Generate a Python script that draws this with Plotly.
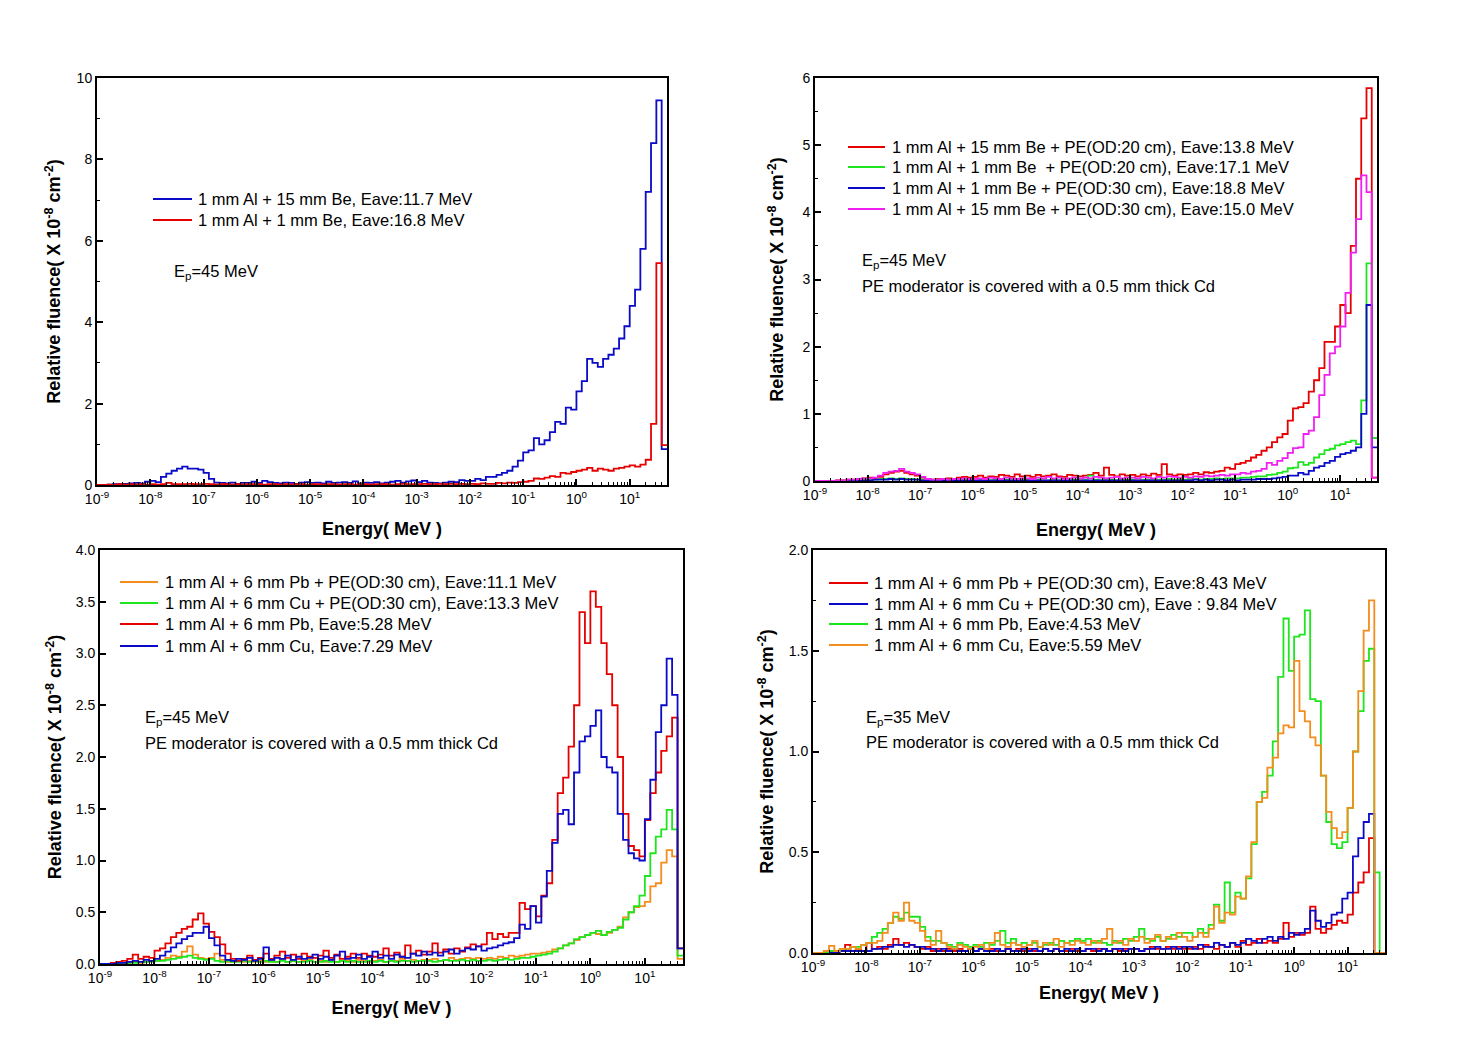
import plotly.graph_objects as go

# ---------------- energy bin grid (10 bins per decade, 1e-9 .. 10^1.7 MeV) ----------------
LOG_E_START = -9.0
BINS_PER_DECADE = 10
N_BINS = 107
energy_edges = [10 ** (LOG_E_START + i / BINS_PER_DECADE) for i in range(N_BINS + 1)]

decade_tick_exponents = list(range(-9, 2))

# ---------------- Panel 1 (Ep = 45 MeV, no PE) ----------------
p1_al15be = [
    0.0, 0.0, 0.01, 0.02, 0.02, 0.03, 0.04, 0.05, 0.04, 0.08,
    0.1, 0.07, 0.2, 0.28, 0.35, 0.4, 0.45, 0.4, 0.4, 0.38,
    0.3, 0.15, 0.06, 0.05, 0.04, 0.06, 0.03, 0.05, 0.05, 0.08,
    0.05, 0.1, 0.07, 0.05, 0.04, 0.06, 0.05, 0.03, 0.06, 0.07,
    0.05, 0.06, 0.04, 0.08, 0.05, 0.06, 0.07, 0.05, 0.09, 0.04,
    0.06, 0.05, 0.07, 0.04, 0.06, 0.08, 0.1, 0.06, 0.09, 0.11,
    0.07, 0.1, 0.06, 0.05, 0.04, 0.06, 0.08, 0.07, 0.12, 0.1,
    0.1, 0.15, 0.12, 0.2, 0.2, 0.25, 0.3, 0.35, 0.45, 0.6,
    0.8, 0.85, 1.15, 1.0, 1.1, 1.3, 1.55, 1.5, 1.9, 1.85,
    2.3, 2.55, 3.1, 3.0, 2.9, 3.1, 3.2, 3.35, 3.6, 3.9,
    4.4, 4.8, 5.8, 7.2, 8.4, 9.45, 0.88,
]
p1_al1be = [
    0.0, 0.0, 0.01, 0.01, 0.02, 0.01, 0.02, 0.01, 0.02, 0.01,
    0.02, 0.01, 0.02, 0.05, 0.02, 0.02, 0.02, 0.03, 0.02, 0.02,
    0.03, 0.02, 0.01, 0.02, 0.02, 0.01, 0.02, 0.01, 0.02, 0.02,
    0.02, 0.01, 0.02, 0.02, 0.01, 0.02, 0.01, 0.02, 0.02, 0.01,
    0.02, 0.02, 0.01, 0.02, 0.02, 0.01, 0.02, 0.02, 0.01, 0.02,
    0.02, 0.01, 0.02, 0.02, 0.02, 0.01, 0.02, 0.03, 0.02, 0.02,
    0.02, 0.03, 0.02, 0.02, 0.03, 0.02, 0.03, 0.02, 0.03, 0.02,
    0.03, 0.02, 0.04, 0.03, 0.03, 0.05, 0.04, 0.06, 0.05, 0.07,
    0.08, 0.1, 0.16, 0.15, 0.18, 0.22, 0.2, 0.3, 0.28, 0.32,
    0.35, 0.38, 0.42, 0.35, 0.4, 0.38, 0.35, 0.4, 0.42, 0.45,
    0.48, 0.45, 0.5, 0.62, 1.5, 5.45, 0.98,
]

# ---------------- Panel 2 (Ep = 45 MeV, with PE) ----------------
p2_15be_pe20 = [
    0.0, 0.0, 0.0, 0.0, 0.01, 0.01, 0.02, 0.02, 0.03, 0.04,
    0.05, 0.04, 0.06, 0.1, 0.12, 0.14, 0.15, 0.12, 0.1, 0.08,
    0.05, 0.03, 0.02, 0.03, 0.02, 0.04, 0.03, 0.05, 0.06, 0.05,
    0.06, 0.08, 0.05, 0.07, 0.06, 0.09, 0.08, 0.06, 0.1, 0.07,
    0.08, 0.06, 0.09, 0.07, 0.08, 0.1, 0.07, 0.06, 0.09, 0.08,
    0.07, 0.08, 0.09, 0.12, 0.08, 0.2, 0.09, 0.07, 0.1, 0.08,
    0.09, 0.07, 0.1, 0.08, 0.11, 0.09, 0.25, 0.1, 0.08, 0.1,
    0.09, 0.1, 0.12, 0.1, 0.13, 0.12, 0.14, 0.15, 0.2, 0.18,
    0.25, 0.27, 0.3, 0.35, 0.39, 0.45, 0.5, 0.58, 0.65, 0.7,
    0.9, 1.08, 1.1, 1.16, 1.33, 1.5, 1.68, 2.07, 2.07, 2.3,
    2.62, 2.5, 3.5, 4.5, 5.4, 5.85, 0.05,
]
p2_1be_pe20 = [
    0.0, 0.0, 0.0, 0.0, 0.0, 0.0, 0.01, 0.01, 0.01, 0.01,
    0.02, 0.02, 0.03, 0.03, 0.04, 0.03, 0.04, 0.03, 0.03, 0.02,
    0.02, 0.01, 0.01, 0.02, 0.01, 0.01, 0.02, 0.01, 0.01, 0.02,
    0.01, 0.02, 0.01, 0.01, 0.02, 0.01, 0.02, 0.01, 0.02, 0.01,
    0.02, 0.01, 0.02, 0.01, 0.01, 0.02, 0.01, 0.02, 0.01, 0.02,
    0.01, 0.02, 0.08, 0.02, 0.01, 0.02, 0.02, 0.01, 0.02, 0.02,
    0.02, 0.01, 0.02, 0.02, 0.03, 0.02, 0.02, 0.03, 0.02, 0.03,
    0.02, 0.03, 0.03, 0.02, 0.03, 0.03, 0.04, 0.03, 0.04, 0.04,
    0.04, 0.05, 0.05, 0.06, 0.07, 0.07, 0.09, 0.1, 0.12, 0.14,
    0.19, 0.2, 0.28, 0.24, 0.27, 0.35, 0.4, 0.46, 0.48, 0.53,
    0.55, 0.58, 0.6, 0.55, 1.2, 3.24, 0.64,
]
p2_1be_pe30 = [
    0.0, 0.0, 0.0, 0.0, 0.0, 0.0, 0.0, 0.01, 0.01, 0.01,
    0.01, 0.02, 0.02, 0.02, 0.03, 0.02, 0.03, 0.02, 0.02, 0.02,
    0.01, 0.01, 0.01, 0.01, 0.01, 0.01, 0.01, 0.01, 0.01, 0.01,
    0.01, 0.01, 0.01, 0.01, 0.01, 0.01, 0.01, 0.01, 0.01, 0.01,
    0.01, 0.01, 0.01, 0.01, 0.01, 0.01, 0.01, 0.01, 0.01, 0.01,
    0.01, 0.01, 0.01, 0.01, 0.01, 0.01, 0.01, 0.01, 0.01, 0.01,
    0.01, 0.01, 0.01, 0.01, 0.01, 0.01, 0.01, 0.01, 0.01, 0.01,
    0.01, 0.01, 0.02, 0.01, 0.02, 0.01, 0.02, 0.02, 0.01, 0.02,
    0.01, 0.02, 0.02, 0.02, 0.03, 0.03, 0.03, 0.04, 0.05, 0.06,
    0.08, 0.08, 0.12, 0.1, 0.15, 0.2, 0.22, 0.27, 0.3, 0.36,
    0.4, 0.42, 0.45, 0.5, 1.0, 2.62, 0.5,
]
p2_15be_pe30 = [
    0.0, 0.0, 0.0, 0.0, 0.01, 0.01, 0.02, 0.02, 0.03, 0.04,
    0.04, 0.05, 0.08, 0.12, 0.14, 0.15, 0.18, 0.14, 0.12, 0.1,
    0.06, 0.03, 0.02, 0.02, 0.03, 0.02, 0.03, 0.03, 0.04, 0.03,
    0.03, 0.04, 0.03, 0.05, 0.04, 0.03, 0.05, 0.04, 0.03, 0.04,
    0.04, 0.03, 0.05, 0.04, 0.06, 0.04, 0.05, 0.03, 0.04, 0.05,
    0.04, 0.05, 0.04, 0.06, 0.05, 0.04, 0.05, 0.06, 0.04, 0.05,
    0.05, 0.04, 0.06, 0.05, 0.04, 0.06, 0.05, 0.07, 0.06, 0.05,
    0.06, 0.05, 0.07, 0.06, 0.08, 0.07, 0.08, 0.09, 0.08, 0.1,
    0.1, 0.12, 0.11, 0.14, 0.15, 0.18, 0.27, 0.24, 0.3, 0.34,
    0.42, 0.49, 0.5, 0.7, 0.75, 0.95, 1.28, 1.58, 1.9, 2.0,
    2.3, 2.8, 3.4, 3.9, 4.55, 4.3, 0.05,
]

# ---------------- Panel 3 (Ep = 45 MeV, Pb / Cu) ----------------
p3_pb_pe30 = [
    0.0, 0.0, 0.0, 0.0, 0.01, 0.01, 0.02, 0.01, 0.02, 0.03,
    0.03, 0.04, 0.06, 0.08, 0.07, 0.12, 0.17, 0.09, 0.06, 0.05,
    0.06, 0.1, 0.04, 0.02, 0.02, 0.03, 0.02, 0.03, 0.02, 0.03,
    0.02, 0.03, 0.02, 0.04, 0.02, 0.03, 0.02, 0.03, 0.04, 0.02,
    0.03, 0.02, 0.04, 0.02, 0.03, 0.03, 0.02, 0.04, 0.03, 0.02,
    0.03, 0.04, 0.02, 0.03, 0.03, 0.05, 0.03, 0.04, 0.03, 0.04,
    0.04, 0.05, 0.03, 0.04, 0.06, 0.04, 0.05, 0.06, 0.05, 0.06,
    0.05, 0.06, 0.05, 0.07, 0.06, 0.08, 0.07, 0.08, 0.09, 0.1,
    0.1, 0.11, 0.12, 0.14, 0.15, 0.18, 0.2, 0.23, 0.26, 0.28,
    0.3, 0.29, 0.28, 0.3, 0.33, 0.36, 0.45, 0.5, 0.55, 0.56,
    0.6, 0.75, 0.78, 0.98, 1.1, 1.04, 0.05,
]
p3_cu_pe30 = [
    0.0, 0.0, 0.0, 0.0, 0.01, 0.01, 0.01, 0.02, 0.02, 0.02,
    0.03, 0.03, 0.04, 0.05, 0.06, 0.07, 0.08, 0.06, 0.05, 0.04,
    0.05, 0.03, 0.02, 0.03, 0.02, 0.02, 0.03, 0.02, 0.03, 0.02,
    0.03, 0.02, 0.02, 0.03, 0.02, 0.03, 0.02, 0.02, 0.03, 0.02,
    0.02, 0.03, 0.02, 0.02, 0.03, 0.02, 0.03, 0.02, 0.02, 0.03,
    0.02, 0.03, 0.02, 0.03, 0.02, 0.03, 0.03, 0.02, 0.03, 0.03,
    0.03, 0.02, 0.03, 0.04, 0.03, 0.03, 0.04, 0.03, 0.04, 0.03,
    0.03, 0.04, 0.03, 0.04, 0.05, 0.04, 0.05, 0.06, 0.06, 0.07,
    0.08, 0.09, 0.1, 0.12, 0.15, 0.18, 0.2, 0.24, 0.26, 0.28,
    0.3, 0.32, 0.28, 0.31, 0.33, 0.35, 0.43, 0.5, 0.56, 0.66,
    0.85, 1.07, 1.23, 1.3, 1.49, 1.3, 0.08,
]
p3_pb = [
    0.0, 0.0, 0.01, 0.02, 0.03, 0.05, 0.09, 0.05, 0.07, 0.06,
    0.13, 0.15, 0.2, 0.26, 0.3, 0.34, 0.36, 0.43, 0.49, 0.39,
    0.31, 0.26, 0.19, 0.1, 0.05, 0.03, 0.05, 0.08, 0.04, 0.06,
    0.1, 0.05, 0.08, 0.12, 0.06, 0.09, 0.05, 0.1, 0.07, 0.06,
    0.08, 0.13, 0.06, 0.09, 0.05, 0.07, 0.1, 0.06, 0.1, 0.08,
    0.07, 0.09, 0.15, 0.08, 0.11, 0.07, 0.18, 0.1, 0.13, 0.09,
    0.12, 0.2, 0.11, 0.14, 0.1, 0.15, 0.12, 0.16, 0.19, 0.17,
    0.19, 0.3, 0.24, 0.29, 0.26, 0.3, 0.3, 0.59, 0.53, 0.56,
    0.46, 0.66, 0.78, 1.2, 1.65, 1.8, 2.1, 2.5, 3.4, 3.1,
    3.6, 3.45, 3.1, 2.8, 2.5, 2.0, 1.45, 1.14, 1.1, 1.04,
    1.39, 1.65, 1.85, 2.06, 2.2, 2.38, 0.15,
]
p3_cu = [
    0.0, 0.0, 0.0, 0.01, 0.01, 0.02, 0.03, 0.02, 0.04, 0.03,
    0.05, 0.08, 0.12, 0.16, 0.2, 0.24, 0.27, 0.3, 0.3, 0.36,
    0.25, 0.18, 0.08, 0.04, 0.03, 0.05, 0.04, 0.06, 0.03, 0.05,
    0.16, 0.04, 0.06, 0.05, 0.08, 0.04, 0.07, 0.05, 0.06, 0.09,
    0.05, 0.07, 0.04, 0.08, 0.12, 0.05, 0.06, 0.09, 0.05, 0.07,
    0.12, 0.06, 0.08, 0.05, 0.09, 0.07, 0.06, 0.1, 0.08, 0.12,
    0.09, 0.11, 0.08, 0.12, 0.14, 0.1, 0.13, 0.15, 0.14, 0.17,
    0.13, 0.15, 0.16, 0.18, 0.2, 0.21, 0.25, 0.38, 0.34, 0.56,
    0.4, 0.65, 0.9, 1.17, 1.45, 1.49, 1.35, 1.85, 2.15, 2.2,
    2.3, 2.45, 2.0, 1.9, 1.85, 1.45, 1.2, 1.07, 1.02, 1.0,
    1.4, 1.78, 2.24, 2.5, 2.95, 2.6, 0.15,
]

# ---------------- Panel 4 (Ep = 35 MeV, Pb / Cu) ----------------
p4_pb_pe30 = [
    0.0, 0.0, 0.0, 0.0, 0.01, 0.01, 0.04, 0.01, 0.02, 0.01,
    0.05, 0.02, 0.03, 0.02, 0.04, 0.07, 0.04, 0.05, 0.04, 0.03,
    0.02, 0.03, 0.01, 0.02, 0.01, 0.02, 0.01, 0.02, 0.01, 0.02,
    0.01, 0.02, 0.01, 0.02, 0.01, 0.01, 0.02, 0.01, 0.02, 0.01,
    0.02, 0.01, 0.01, 0.02, 0.01, 0.02, 0.01, 0.01, 0.02, 0.01,
    0.01, 0.02, 0.01, 0.02, 0.02, 0.01, 0.02, 0.01, 0.02, 0.02,
    0.02, 0.01, 0.02, 0.03, 0.02, 0.02, 0.03, 0.02, 0.03, 0.02,
    0.02, 0.03, 0.02, 0.04, 0.03, 0.02, 0.04, 0.03, 0.05, 0.03,
    0.06, 0.04, 0.05, 0.07, 0.05, 0.06, 0.05, 0.07, 0.15, 0.08,
    0.1, 0.09, 0.1, 0.23, 0.12, 0.1, 0.12, 0.14, 0.16, 0.15,
    0.19, 0.3, 0.35, 0.4, 0.57, 0.0, 0.0,
]
p4_cu_pe30 = [
    0.0, 0.0, 0.0, 0.0, 0.0, 0.01, 0.01, 0.01, 0.01, 0.01,
    0.01, 0.02, 0.02, 0.03, 0.03, 0.04, 0.04, 0.03, 0.04, 0.03,
    0.03, 0.02, 0.02, 0.01, 0.02, 0.01, 0.02, 0.01, 0.01, 0.02,
    0.01, 0.02, 0.01, 0.01, 0.02, 0.01, 0.02, 0.01, 0.01, 0.02,
    0.01, 0.02, 0.01, 0.02, 0.01, 0.02, 0.01, 0.02, 0.01, 0.02,
    0.01, 0.02, 0.02, 0.01, 0.02, 0.01, 0.02, 0.02, 0.01, 0.02,
    0.02, 0.01, 0.02, 0.02, 0.03, 0.02, 0.02, 0.03, 0.02, 0.03,
    0.03, 0.02, 0.04, 0.03, 0.03, 0.05, 0.04, 0.03, 0.05, 0.04,
    0.05, 0.07, 0.06, 0.05, 0.07, 0.08, 0.06, 0.08, 0.07, 0.1,
    0.09, 0.1, 0.12, 0.21, 0.16, 0.13, 0.15, 0.19, 0.2, 0.27,
    0.3, 0.48, 0.57, 0.65, 0.69, 0.0, 0.0,
]
p4_pb = [
    0.0, 0.0, 0.0, 0.01, 0.01, 0.02, 0.02, 0.03, 0.03, 0.04,
    0.05, 0.08, 0.1, 0.12, 0.15, 0.18, 0.17, 0.2, 0.18, 0.18,
    0.13, 0.08, 0.06, 0.06, 0.05, 0.04, 0.03, 0.05, 0.04, 0.03,
    0.04, 0.03, 0.05, 0.04, 0.06, 0.11, 0.05, 0.07, 0.04, 0.05,
    0.04, 0.05, 0.03, 0.04, 0.05, 0.04, 0.06, 0.05, 0.06, 0.07,
    0.06, 0.07, 0.05, 0.06, 0.05, 0.04, 0.06, 0.05, 0.07, 0.06,
    0.08, 0.12, 0.07, 0.06, 0.08, 0.06, 0.07, 0.09, 0.08, 0.1,
    0.1, 0.08, 0.12, 0.1, 0.14, 0.24, 0.16, 0.35, 0.2, 0.3,
    0.27, 0.37, 0.54, 0.75, 0.8, 0.88, 1.05, 1.37, 1.66, 1.4,
    1.57, 1.58, 1.7, 1.26, 1.25, 0.88, 0.65, 0.54, 0.52, 0.55,
    0.72, 1.0, 1.2, 1.45, 1.51, 0.4, 0.0,
]
p4_cu = [
    0.0, 0.0, 0.01, 0.035, 0.01, 0.02, 0.02, 0.03, 0.02, 0.04,
    0.05, 0.05, 0.06, 0.1, 0.15, 0.2, 0.16, 0.25, 0.16, 0.15,
    0.11, 0.06, 0.04, 0.11, 0.05, 0.03, 0.02, 0.04, 0.03, 0.02,
    0.03, 0.04, 0.02, 0.05, 0.1, 0.04, 0.03, 0.05, 0.04, 0.03,
    0.04, 0.06, 0.03, 0.05, 0.04, 0.07, 0.03, 0.05, 0.04, 0.06,
    0.05, 0.04, 0.06, 0.05, 0.07, 0.12, 0.05, 0.06, 0.04, 0.07,
    0.06, 0.08, 0.05, 0.07, 0.09, 0.06, 0.08, 0.07, 0.1, 0.08,
    0.06, 0.08, 0.1, 0.08, 0.12, 0.23, 0.15, 0.2, 0.19, 0.28,
    0.27, 0.38, 0.55, 0.75, 0.77, 0.92, 0.97, 1.09, 1.13, 1.12,
    1.45, 1.2, 1.15, 1.07, 1.03, 0.88, 0.7, 0.62, 0.57, 0.6,
    0.72, 1.0, 1.3, 1.6, 1.75, 0.0, 0.0,
]

# ---------------- styling ----------------
RED = "#e60000"
BLUE = "#0a0ac8"
GREEN = "#1ee61e"
ORANGE = "#f58c1e"
MAGENTA = "#f01ef0"
FONT = "Liberation Sans, Arial, sans-serif"
OFF = 8                      # default page body margin of the html page
FW, FH = 1459 - 2 * OFF, 1060 - 2 * OFF


def px(x):
    return (x - OFF) / FW


def py(y):
    return 1 - (y - OFF) / FH


panels = [
    dict(box=(97, 667, 78, 485), yrange=[0, 10], dtick=2, minor=1, fmt=None,
         xstand=17, ystand=11,
         leg=dict(x0=153, x1=192, tx=196, ys=[199, 220]),
         series=[("1 mm Al + 15 mm Be, Eave:11.7 MeV", p1_al15be, BLUE),
                 ("1 mm Al + 1 mm Be, Eave:16.8 MeV", p1_al1be, RED)],
         notes=[("E<sub>p</sub>=45 MeV", 172, 272)]),
    dict(box=(815, 1377, 78, 481), yrange=[0, 6], dtick=1, minor=0.5, fmt=None,
         xstand=22, ystand=14,
         leg=dict(x0=848, x1=885, tx=890, ys=[147, 167, 188, 209]),
         series=[("1 mm Al + 15 mm Be + PE(OD:20 cm), Eave:13.8 MeV", p2_15be_pe20, RED),
                 ("1 mm Al + 1 mm Be  + PE(OD:20 cm), Eave:17.1 MeV", p2_1be_pe20, GREEN),
                 ("1 mm Al + 1 mm Be + PE(OD:30 cm), Eave:18.8 MeV", p2_1be_pe30, BLUE),
                 ("1 mm Al + 15 mm Be + PE(OD:30 cm), Eave:15.0 MeV", p2_15be_pe30, MAGENTA)],
         notes=[("E<sub>p</sub>=45 MeV", 860, 261),
                ("PE moderator is covered with a 0.5 mm thick Cd", 860, 286)]),
    dict(box=(100, 683, 550, 964), yrange=[0, 4], dtick=0.5, minor=None, fmt=".1f",
         xstand=17, ystand=9,
         leg=dict(x0=120, x1=158, tx=163, ys=[582, 603, 624, 646]),
         series=[("1 mm Al + 6 mm Pb + PE(OD:30 cm), Eave:11.1 MeV", p3_pb_pe30, ORANGE),
                 ("1 mm Al + 6 mm Cu + PE(OD:30 cm), Eave:13.3 MeV", p3_cu_pe30, GREEN),
                 ("1 mm Al + 6 mm Pb, Eave:5.28 MeV", p3_pb, RED),
                 ("1 mm Al + 6 mm Cu, Eave:7.29 MeV", p3_cu, BLUE)],
         notes=[("E<sub>p</sub>=45 MeV", 143, 718),
                ("PE moderator is covered with a 0.5 mm thick Cd", 143, 743)]),
    dict(box=(813, 1385, 550, 953), yrange=[0, 2], dtick=0.5, minor=0.25, fmt=".1f",
         xstand=13, ystand=10,
         leg=dict(x0=829, x1=868, tx=872, ys=[583, 604, 624, 645]),
         series=[("1 mm Al + 6 mm Pb + PE(OD:30 cm), Eave:8.43 MeV", p4_pb_pe30, RED),
                 ("1 mm Al + 6 mm Cu + PE(OD:30 cm), Eave : 9.84 MeV", p4_cu_pe30, BLUE),
                 ("1 mm Al + 6 mm Pb, Eave:4.53 MeV", p4_pb, GREEN),
                 ("1 mm Al + 6 mm Cu, Eave:5.59 MeV", p4_cu, ORANGE)],
         notes=[("E<sub>p</sub>=35 MeV", 864, 718),
                ("PE moderator is covered with a 0.5 mm thick Cd", 864, 742)]),
]

fig = go.Figure()
layout = dict(
    width=FW, height=FH,
    margin=dict(l=0, r=0, t=0, b=0, autoexpand=False),
    paper_bgcolor="white", plot_bgcolor="white",
    font=dict(family=FONT, color="black", size=14),
    showlegend=False,
    annotations=[], shapes=[],
)

minor_x_vals = [k * 10.0 ** n for n in range(-9, 2) for k in range(2, 10) if k * 10.0 ** n < 10 ** 1.7]
ytitle = "<b>Relative fluence( X 10<sup>-8</sup> cm<sup>-2</sup>)</b>"
TEXT_SIZE = 16.5

for i, p in enumerate(panels, start=1):
    sfx = "" if i == 1 else str(i)
    x0, x1, y0, y1 = p["box"]
    xa = dict(
        domain=[px(x0), px(x1)], anchor="y" + sfx, type="log", range=[-9, 1.7],
        automargin=False,
        showline=True, mirror=True, linecolor="black", linewidth=2,
        ticks="inside", ticklen=6, tickwidth=1.5, tickcolor="black",
        tickmode="array",
        tickvals=[10.0 ** e for e in decade_tick_exponents],
        ticktext=[f"10<sup>{e}</sup>" for e in decade_tick_exponents],
        tickfont=dict(size=14, family=FONT),
        minor=dict(ticks="inside", ticklen=3, tickwidth=1, tickcolor="black",
                   tickmode="array", tickvals=minor_x_vals, showgrid=False),
        showgrid=False, zeroline=False,
        title=dict(text="<b>Energy( MeV )</b>", font=dict(size=18, family=FONT),
                   standoff=p["xstand"]),
    )
    ya = dict(
        domain=[py(y1), py(y0)], anchor="x" + sfx, range=p["yrange"],
        automargin=False,
        showline=True, mirror=True, linecolor="black", linewidth=2,
        ticks="inside", ticklen=6, tickwidth=1.5, tickcolor="black",
        dtick=p["dtick"], tick0=0,
        tickfont=dict(size=14, family=FONT),
        showgrid=False, zeroline=False,
        title=dict(text=ytitle, font=dict(size=18, family=FONT), standoff=p["ystand"]),
    )
    if p["fmt"]:
        ya["tickformat"] = p["fmt"]
    if p["minor"]:
        ya["minor"] = dict(ticks="inside", ticklen=3, tickwidth=1, tickcolor="black",
                           dtick=p["minor"], showgrid=False)
    layout["xaxis" + sfx] = xa
    layout["yaxis" + sfx] = ya

    leg = p["leg"]
    for (name, vals, color), ly in zip(p["series"], leg["ys"]):
        fig.add_trace(go.Scatter(
            x=energy_edges, y=list(vals) + [vals[-1]],
            mode="lines", line=dict(color=color, width=1.8, shape="hv"),
            name=name, xaxis="x" + sfx, yaxis="y" + sfx,
        ))
        # in-plot legend entry: coloured line sample + label
        layout["shapes"].append(dict(
            type="line", xref="paper", yref="paper",
            x0=px(leg["x0"]), x1=px(leg["x1"]), y0=py(ly), y1=py(ly),
            line=dict(color=color, width=2),
        ))
        layout["annotations"].append(dict(
            text=name, x=px(leg["tx"]), y=py(ly), xref="paper", yref="paper",
            xanchor="left", yanchor="middle", showarrow=False,
            font=dict(size=TEXT_SIZE, family=FONT, color="black"),
        ))

    for text, ax, ay in p["notes"]:
        layout["annotations"].append(dict(
            text=text, x=px(ax), y=py(ay), xref="paper", yref="paper",
            xanchor="left", yanchor="middle", showarrow=False,
            font=dict(size=TEXT_SIZE, family=FONT, color="black"),
        ))

fig.update_layout(**layout)
fig.write_html("out.html")
